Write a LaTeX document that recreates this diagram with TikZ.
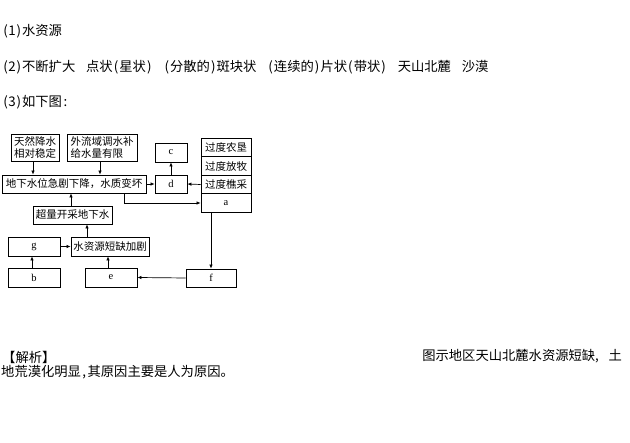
\documentclass[tikz,border=0pt]{standalone}
\usepackage{fontspec}
\setmainfont{Liberation Serif}
\newfontfamily\cjk{Noto Sans CJK SC}
\usetikzlibrary{arrows.meta}
\newcommand\hw[1]{\makebox[6.65pt]{#1}}
\newcommand\fw[1]{\makebox[13.3pt][l]{#1}}
\newcommand\gap{\hspace*{10.8pt}}
\begin{document}
\begin{tikzpicture}[x=1pt,y=-1pt,
  bx/.style={draw,line width=0.8pt,inner sep=0pt,font=\cjk\fontsize{10.5}{12}\selectfont},
  lt/.style={font=\cjk\fontsize{13.3}{15}\selectfont,anchor=west,inner sep=0pt},
  arr/.style={line width=0.7pt,-{Latex[length=4pt,width=3.5pt]}}]
\useasboundingbox (0,0) rectangle (630,443);
% top text
\node[lt] (t1) at (2,31) {\hw{(}\hw{1}\hw{)}水资源};
\node[lt] (t2) at (2,67) {\hw{(}\hw{2}\hw{)}不断扩大\gap 点状\hw{(}星状\hw{)}\gap\hw{(}分散的\hw{)}斑块状\gap\hw{(}连续的\hw{)}片状\hw{(}带状\hw{)}\gap 天山北麓\gap 沙漠};
\node[lt] (t3) at (2,102) {\hw{(}\hw{3}\hw{)}如下图\hw{:}};
% boxes
\node[bx,minimum width=48pt,minimum height=27pt,align=center] (n1) at (35,147.5) {天然降水\\相对稳定};
\node[bx,minimum width=70pt,minimum height=27pt,align=left] (n2) at (102,147.5) {外流域调水补\\给水量有限};
\node[bx,minimum width=144pt,minimum height=18pt] (gw) at (74,184) {地下水位急剧下降，水质变坏};
\node[bx,minimum width=32pt,minimum height=19pt] (c) at (171,152.5) {\rmfamily c};
\node[bx,minimum width=32pt,minimum height=18pt] (d) at (171,184) {\rmfamily d};
\node[bx,minimum width=50pt,minimum height=18.5pt] (r1) at (226,147.5) {过度农垦};
\node[bx,minimum width=50pt,minimum height=18.5pt] (r2) at (226,166) {过度放牧};
\node[bx,minimum width=50pt,minimum height=18.5pt] (r3) at (226,184.5) {过度樵采};
\node[bx,minimum width=50pt,minimum height=18.5pt] (a) at (226,203) {\rmfamily a};
\node[bx,minimum width=79pt,minimum height=18pt] (ov) at (72.5,215) {超量开采地下水};
\node[bx,minimum width=52pt,minimum height=19pt] (g) at (34,246.5) {\rmfamily g};
\node[bx,minimum width=78pt,minimum height=19pt] (sh) at (110,246.5) {水资源短缺加剧};
\node[bx,minimum width=52pt,minimum height=19pt] (b) at (34,277.5) {\rmfamily b};
\node[bx,minimum width=52pt,minimum height=19pt] (e) at (111,277.5) {\rmfamily e};
\node[bx,minimum width=50pt,minimum height=18pt] (f) at (211,278) {\rmfamily f};
% arrows
\draw[arr] ([xshift=-2pt]n1.south) -- ([xshift=-2pt]n1.south |- gw.north);
\draw[arr] ([xshift=-2pt]n2.south) -- ([xshift=-2pt]n2.south |- gw.north);
\draw[arr] (gw.east) -- (d.west);
\draw[arr] (r3.west) -- (d.east);
\draw[arr] (d.north) -- (c.south);
\draw[arr] ([xshift=50pt]gw.south) |- (a.west);
\draw[arr] (f.north |- a.south) -- (f.north);
\draw[arr] (f.west) -- (e.east);
\draw[arr] ([xshift=-3pt]e.north) -- ([xshift=-3pt]e.north |- sh.south);
\draw[arr] ([xshift=-23pt]sh.north) -- ([xshift=-23pt]sh.north |- ov.south);
\draw[arr] ([xshift=-1.5pt]ov.north) -- ([xshift=-1.5pt]ov.north |- gw.south);
\draw[arr] (g.east) -- (sh.west);
\draw[arr] ([xshift=-2pt]b.north) -- ([xshift=-2pt]b.north |- g.south);
% bottom text
\node[lt] (j1) at (2,357) {【解析】};
\node[lt,anchor=east] (j2) at (622,356) {图示地区天山北麓水资源短缺\fw{,}土};
\node[lt] (j3) at (1,372) {地荒漠化明显\hw{,}其原因主要是人为原因。};
\end{tikzpicture}
\end{document}
